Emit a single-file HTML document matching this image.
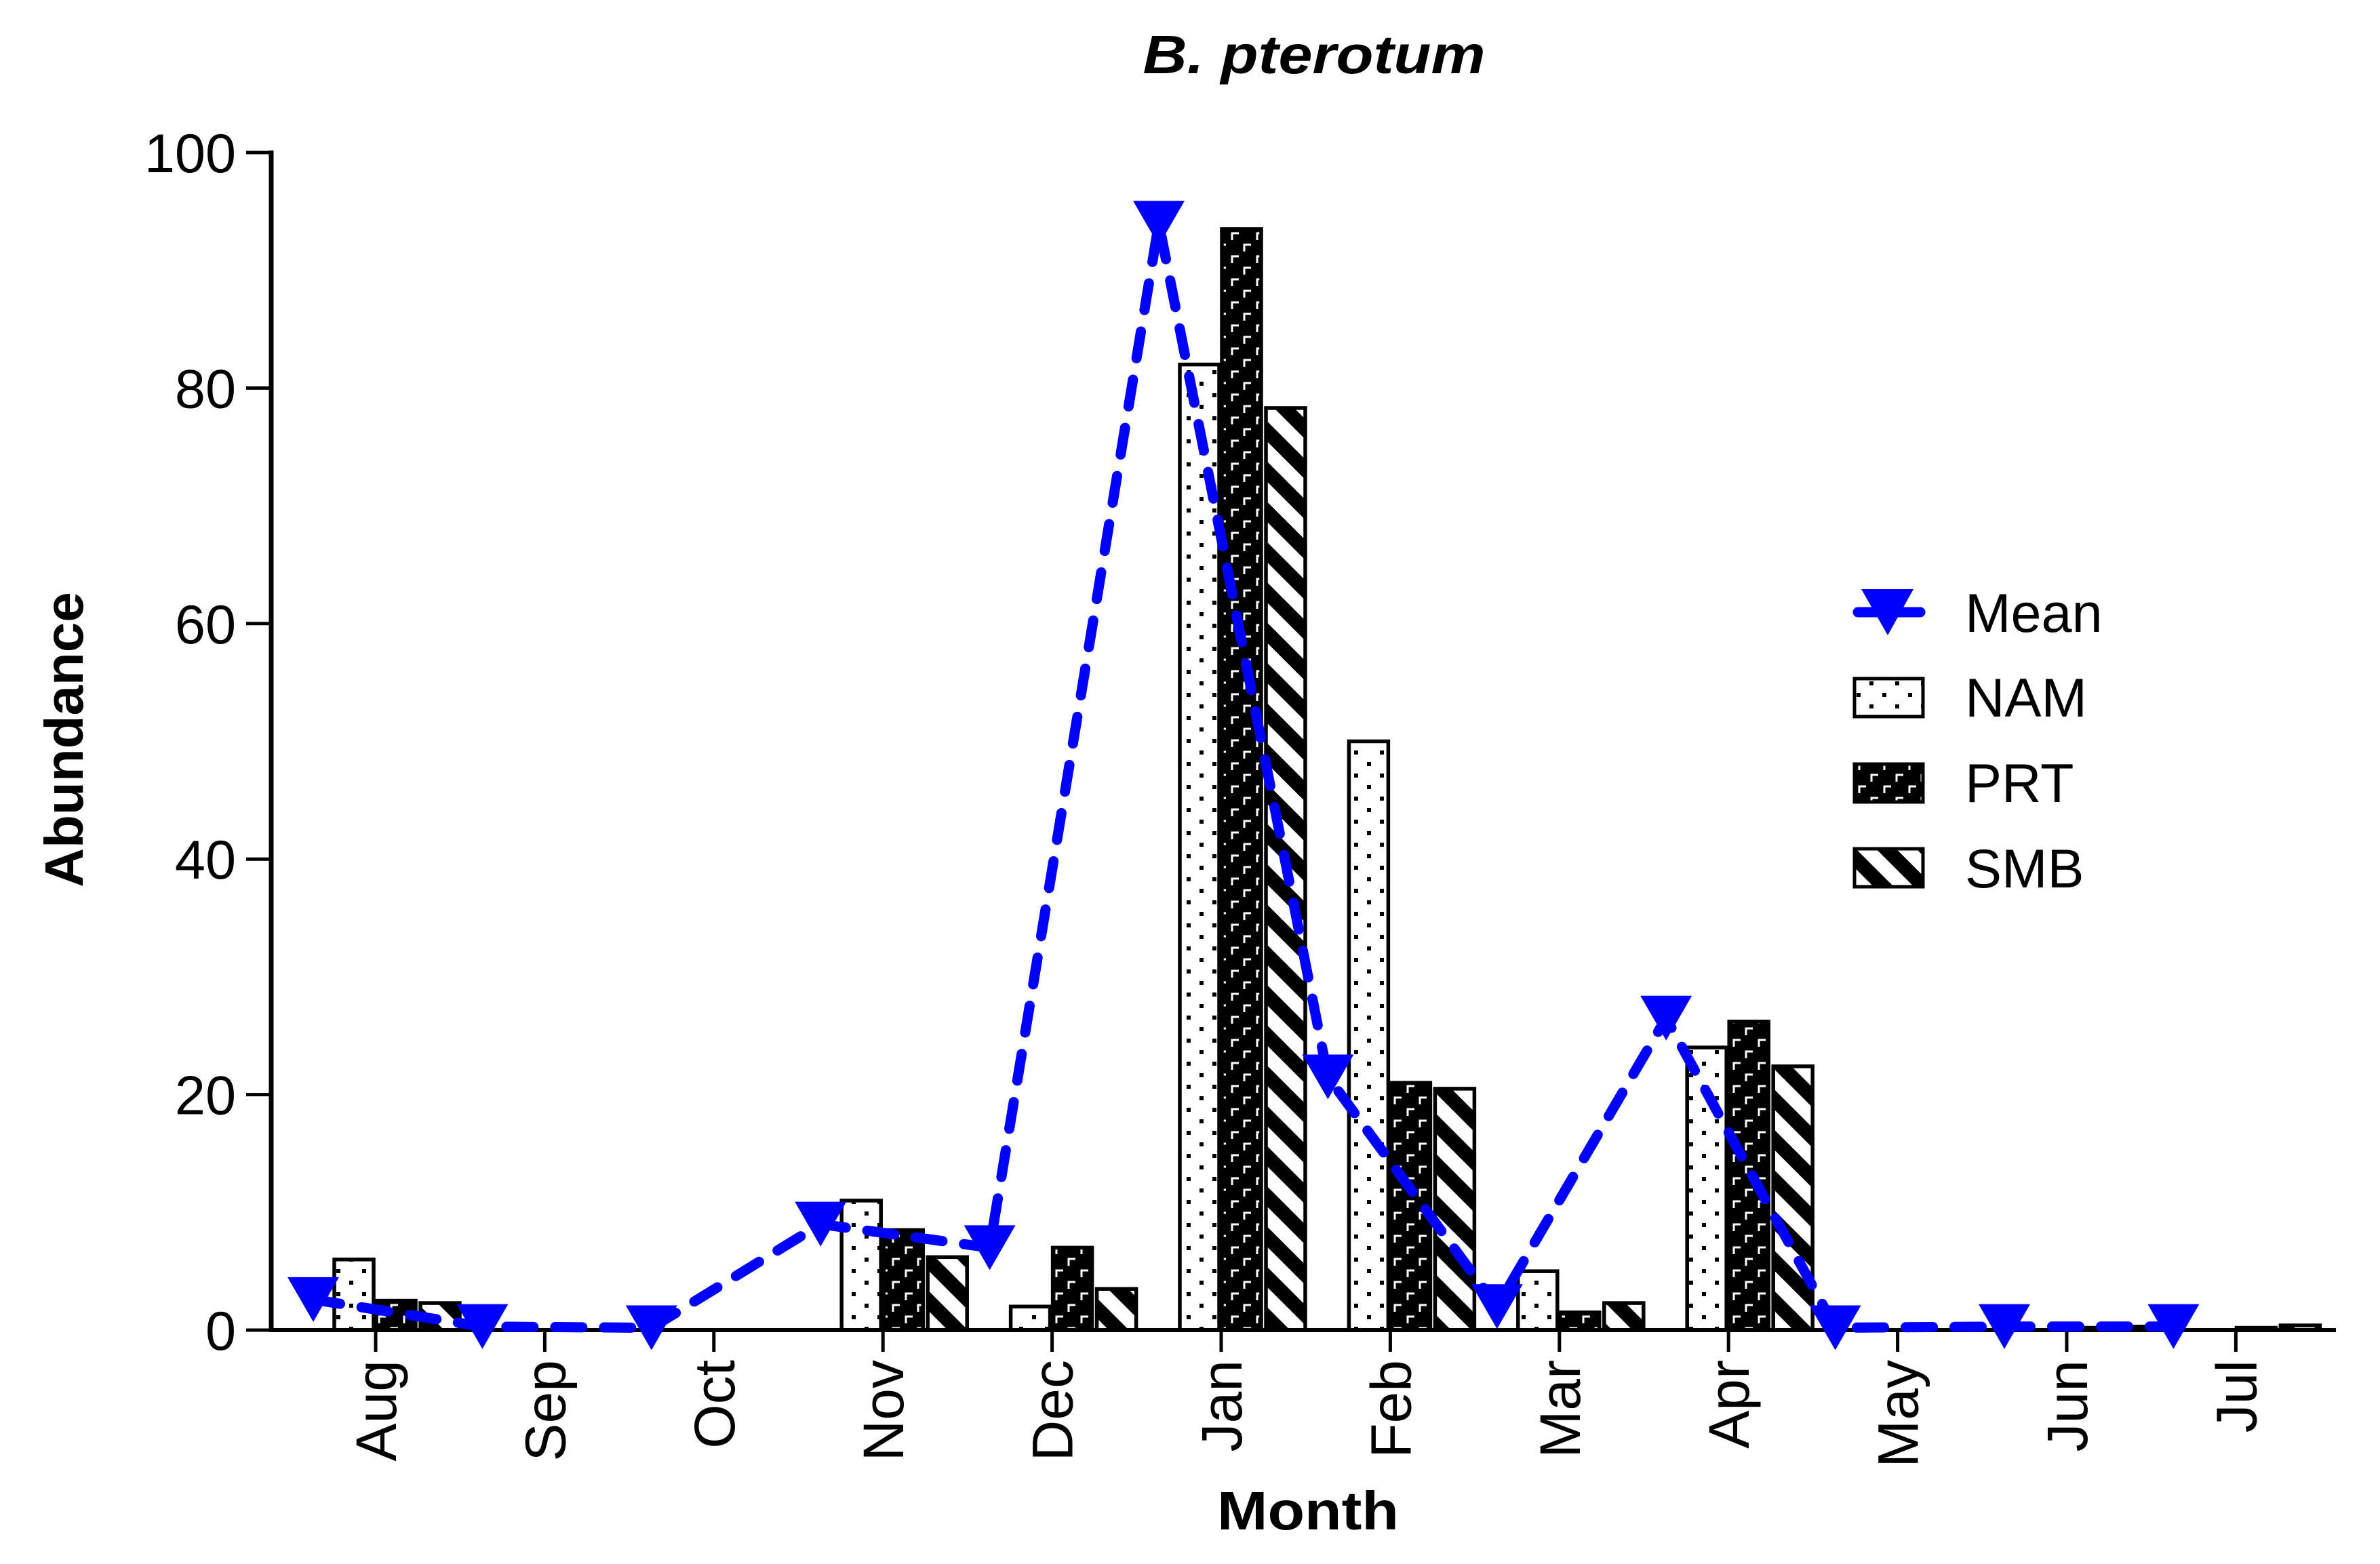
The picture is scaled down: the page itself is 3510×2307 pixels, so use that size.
<!DOCTYPE html>
<html><head><meta charset="utf-8"><style>
html,body{margin:0;padding:0;background:#fff;}
svg{display:block;font-family:"Liberation Sans",Arial,sans-serif;}
</style></head><body>
<svg id="chart" width="3510" height="2307" viewBox="0 0 3510 2307" xmlns="http://www.w3.org/2000/svg">
<defs>
<pattern id="pDots" patternUnits="userSpaceOnUse" width="38" height="34">
<rect width="38" height="34" fill="#fff"/>
<rect x="2" y="2" width="6" height="6" fill="#000"/>
<rect x="21" y="19" width="6" height="6" fill="#000"/>
</pattern>
<pattern id="pBrick" patternUnits="userSpaceOnUse" width="37" height="34">
<rect width="37" height="34" fill="#000"/>
<path d="M4 14 V4 H14" stroke="#fff" stroke-width="3" fill="none"/>
<path d="M22 31 V21 H32" stroke="#fff" stroke-width="3" fill="none"/>
</pattern>
<pattern id="pStripe" patternUnits="userSpaceOnUse" width="42" height="42" patternTransform="rotate(45)">
<rect width="42" height="42" fill="#fff"/>
<rect x="0" y="0" width="42" height="21" fill="#000"/>
</pattern>
</defs>
<g id="plot"></g>
<text x="1938" y="108" text-anchor="middle" font-size="80" font-weight="bold" font-style="italic" textLength="505" lengthAdjust="spacingAndGlyphs">B. pterotum</text>
<text x="1929" y="2256" text-anchor="middle" font-size="80" font-weight="bold" textLength="268" lengthAdjust="spacingAndGlyphs">Month</text>
<text transform="translate(122,1091) rotate(-90)" text-anchor="middle" font-size="80" font-weight="bold">Abundance</text>
<g>
<line x1="2740" y1="903" x2="2832" y2="903" stroke="#0000ff" stroke-width="15" stroke-linecap="round"/>
<path d="M2745 869 L2822 869 L2784 937 Z" fill="#0000ff"/>
<text x="2898" y="932" font-size="81">Mean</text>
<rect x="2735" y="1001" width="101" height="56" fill="url(#pDots)" stroke="#000" stroke-width="5"/>
<text x="2898" y="1057" font-size="81">NAM</text>
<rect x="2735" y="1127" width="101" height="56" fill="url(#pBrick)" stroke="#000" stroke-width="5"/>
<text x="2898" y="1183" font-size="81">PRT</text>
<rect x="2735" y="1252" width="101" height="56" fill="url(#pStripe)" stroke="#000" stroke-width="5"/>
<text x="2898" y="1309" font-size="81">SMB</text>
</g>
</svg>
<script>
const months = ["Aug","Sep","Oct","Nov","Dec","Jan","Feb","Mar","Apr","May","Jun","Jul"];
const meanVals = [2.6,0.3,0.2,9,7,94,21.5,2,26.5,0.2,0.3,0.3];
const namVals = [6,0,0,11,2,82,50,5,24,0,0,0];
const prtVals = [2.5,0,0,8.5,7,93.5,21,1.5,26.2,0,0.2,0.2];
const smbVals = [2.3,0,0,6.2,3.5,78.3,20.5,2.3,22.4,0,0.3,0.4];
const yTicks = [0,20,40,60,80,100];

const NS = "http://www.w3.org/2000/svg";
const g = document.getElementById('plot');
const X0 = 400, Y0 = 1962, Y100 = 225, TICK0 = 554, STEP = 249.4, BW = 62;
function yS(v){ return Y0 - (Y0 - Y100) * v / 100; }
function xS(i){ return TICK0 + STEP * i; }
function mk(tag, attrs){ const e = document.createElementNS(NS, tag); for (const k in attrs) e.setAttribute(k, attrs[k]); g.appendChild(e); return e; }

const series = [[namVals,'url(#pDots)',-1,'nam'],[prtVals,'url(#pBrick)',0,'prt'],[smbVals,'url(#pStripe)',1,'smb']];
series.forEach(s => {
  s[0].forEach((v,i) => {
    if (v <= 0) return;
    const bx = s[2]===-1 ? xS(i)-BW+1 : (s[2]===0 ? xS(i)+1 : xS(i)+BW+4);
    const r = mk('rect', {x: bx, y: yS(v), width: BW-4, height: Math.max(Y0 - yS(v),1), fill: s[1], stroke:'#000', 'stroke-width':5.5});
    
    
  });
});

const ya = mk('line', {x1:X0, y1:Y100-3, x2:X0, y2:Y0+3, stroke:'#000','stroke-width':7});


const xa = mk('line', {x1:X0, y1:Y0, x2:3445, y2:Y0, stroke:'#000','stroke-width':6});


yTicks.forEach(t => {
  mk('line', {x1:X0-37, y1:yS(t), x2:X0, y2:yS(t), stroke:'#000','stroke-width':5});
  const tx = mk('text', {x:348, y:yS(t)+29, 'text-anchor':'end','font-size':81});
  tx.textContent = t;
  
  
});
months.forEach((m,i) => {
  mk('line', {x1:xS(i), y1:Y0, x2:xS(i), y2:1994, stroke:'#000','stroke-width':5});
  const tx = mk('text', {transform:'translate(' + (xS(i)+30) + ',2006) rotate(-90)', 'text-anchor':'end','font-size':84});
  tx.textContent = m;
  
  
});

const pts = meanVals.map((v,i) => [xS(i)-92, yS(v)]);
const pl = mk('polyline', {points: pts.map(p=>p.join(',')).join(' '), fill:'none', stroke:'#0000ff','stroke-width':15,'stroke-dasharray':'40 32','stroke-linecap':'round','stroke-linejoin':'round'});


pts.forEach((p,i) => {
  const t = mk('path', {d:'M'+(p[0]-38)+' '+(p[1]-33)+' L'+(p[0]+38)+' '+(p[1]-33)+' L'+p[0]+' '+(p[1]+33)+' Z', fill:'#0000ff'});
  
  
});
</script>
</body></html>
